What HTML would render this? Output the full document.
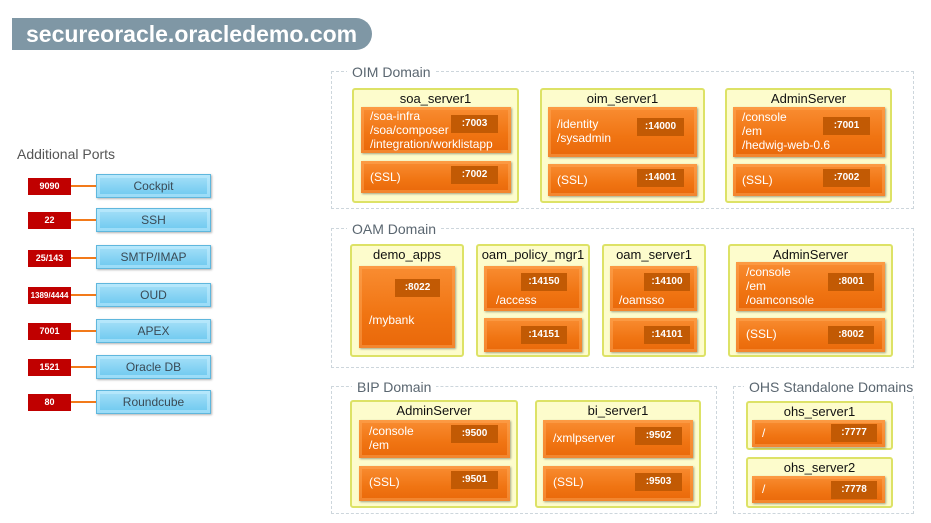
<!DOCTYPE html>
<html><head><meta charset="utf-8"><style>
*{margin:0;padding:0;box-sizing:border-box}
body{width:931px;height:523px;background:#fff;position:relative;overflow:hidden;font-family:"Liberation Sans",sans-serif}
div{position:absolute}
.title{left:12px;top:18px;width:360px;height:32px;background:#7f97a5;border-radius:0 16px 16px 0;color:#fff;font-weight:bold;font-size:23px;line-height:32px;padding-left:14px}
.dom{border:1.5px dashed #cdd6dc}
.dl{background:#fff;color:#5a6670;font-size:14px;padding:0 5px;line-height:16px}
.srv{background:#fdfccc;border:2px solid #dde266;border-radius:3px}
.sn{left:0;right:0;top:1px;text-align:center;font-size:13px;color:#111}
.or{background:linear-gradient(#f98d32,#f07412 60%,#e9680a);box-shadow:inset 0 0 0 3px rgba(255,170,90,.45),1px 1px 2px rgba(0,0,0,.35);color:#fff;font-size:12px;line-height:14px}
.or span{position:absolute;white-space:nowrap}
.bd{background:#c25a04;color:#fff;font-weight:bold;font-size:10px;text-align:center;line-height:18px;height:18px}
.red{left:28px;width:43px;height:17px;background:#c00000;color:#fff;font-weight:bold;font-size:9px;text-align:center;line-height:17px}
.ln{left:71px;width:25px;height:2px;background:#f27a1a}
.blu{left:96px;width:115px;height:24px;background:linear-gradient(#a6e0f8,#6cc8ef);border:1px solid #5fb7dd;box-shadow:inset 0 0 0 3px rgba(200,240,255,.5),1px 1px 2px rgba(0,0,0,.3);color:#3a4a55;font-size:12px;text-align:center;line-height:22px}
</style></head><body>
<div class="title">secureoracle.oracledemo.com</div>

<div style="left:17px;top:146px;font-size:14px;color:#555">Additional Ports</div>
<div class="red" style="top:178px">9090</div><div class="ln" style="top:185px"></div><div class="blu" style="top:174px">Cockpit</div>
<div class="red" style="top:212px">22</div><div class="ln" style="top:219px"></div><div class="blu" style="top:208px">SSH</div>
<div class="red" style="top:250px">25/143</div><div class="ln" style="top:257px"></div><div class="blu" style="top:245px">SMTP/IMAP</div>
<div class="red" style="top:287px;font-size:8px">1389/4444</div><div class="ln" style="top:294px"></div><div class="blu" style="top:283px">OUD</div>
<div class="red" style="top:323px">7001</div><div class="ln" style="top:330px"></div><div class="blu" style="top:319px">APEX</div>
<div class="red" style="top:359px">1521</div><div class="ln" style="top:366px"></div><div class="blu" style="top:355px">Oracle DB</div>
<div class="red" style="top:394px">80</div><div class="ln" style="top:401px"></div><div class="blu" style="top:390px">Roundcube</div>

<!-- OIM -->
<div class="dom" style="left:331px;top:71px;width:583px;height:138px"></div>
<div class="dl" style="left:347px;top:64px">OIM Domain</div>
<div class="srv" style="left:352px;top:88px;width:167px;height:115px"><div class="sn">soa_server1</div></div>
<div class="or" style="left:361px;top:107px;width:150px;height:46px"><span style="left:9px;top:2px">/soa-infra<br>/soa/composer<br>/integration/worklistapp</span></div>
<div class="bd" style="left:451px;top:115px;width:47px">:7003</div>
<div class="or" style="left:361px;top:161px;width:150px;height:32px"><span style="left:9px;top:9px">(SSL)</span></div>
<div class="bd" style="left:451px;top:166px;width:47px">:7002</div>

<div class="srv" style="left:540px;top:88px;width:165px;height:115px"><div class="sn">oim_server1</div></div>
<div class="or" style="left:548px;top:107px;width:149px;height:50px"><span style="left:9px;top:10px">/identity<br>/sysadmin</span></div>
<div class="bd" style="left:637px;top:118px;width:47px">:14000</div>
<div class="or" style="left:548px;top:164px;width:149px;height:32px"><span style="left:9px;top:9px">(SSL)</span></div>
<div class="bd" style="left:637px;top:169px;width:47px">:14001</div>

<div class="srv" style="left:725px;top:88px;width:167px;height:115px"><div class="sn">AdminServer</div></div>
<div class="or" style="left:733px;top:107px;width:152px;height:50px"><span style="left:9px;top:3px">/console<br>/em<br>/hedwig-web-0.6</span></div>
<div class="bd" style="left:823px;top:117px;width:47px">:7001</div>
<div class="or" style="left:733px;top:164px;width:152px;height:32px"><span style="left:9px;top:9px">(SSL)</span></div>
<div class="bd" style="left:823px;top:169px;width:47px">:7002</div>

<!-- OAM -->
<div class="dom" style="left:331px;top:228px;width:583px;height:140px"></div>
<div class="dl" style="left:347px;top:221px">OAM Domain</div>
<div class="srv" style="left:350px;top:244px;width:114px;height:113px"><div class="sn">demo_apps</div></div>
<div class="or" style="left:359px;top:266px;width:96px;height:82px"><span style="left:10px;top:47px">/mybank</span></div>
<div class="bd" style="left:395px;top:279px;width:45px">:8022</div>

<div class="srv" style="left:476px;top:244px;width:114px;height:113px"><div class="sn">oam_policy_mgr1</div></div>
<div class="or" style="left:484px;top:266px;width:98px;height:45px"><span style="left:12px;top:27px">/access</span></div>
<div class="bd" style="left:521px;top:273px;width:46px">:14150</div>
<div class="or" style="left:484px;top:318px;width:98px;height:34px"></div>
<div class="bd" style="left:521px;top:326px;width:46px">:14151</div>

<div class="srv" style="left:602px;top:244px;width:104px;height:113px"><div class="sn">oam_server1</div></div>
<div class="or" style="left:610px;top:266px;width:87px;height:45px"><span style="left:9px;top:27px">/oamsso</span></div>
<div class="bd" style="left:644px;top:273px;width:46px">:14100</div>
<div class="or" style="left:610px;top:318px;width:87px;height:34px"></div>
<div class="bd" style="left:644px;top:326px;width:46px">:14101</div>

<div class="srv" style="left:728px;top:244px;width:165px;height:113px"><div class="sn">AdminServer</div></div>
<div class="or" style="left:736px;top:262px;width:149px;height:49px"><span style="left:10px;top:3px">/console<br>/em<br>/oamconsole</span></div>
<div class="bd" style="left:828px;top:273px;width:46px">:8001</div>
<div class="or" style="left:736px;top:318px;width:149px;height:34px"><span style="left:10px;top:9px">(SSL)</span></div>
<div class="bd" style="left:828px;top:326px;width:46px">:8002</div>

<!-- BIP -->
<div class="dom" style="left:331px;top:386px;width:386px;height:128px"></div>
<div class="dl" style="left:352px;top:379px">BIP Domain</div>
<div class="srv" style="left:350px;top:400px;width:168px;height:108px"><div class="sn">AdminServer</div></div>
<div class="or" style="left:359px;top:420px;width:151px;height:38px"><span style="left:10px;top:4px">/console<br>/em</span></div>
<div class="bd" style="left:451px;top:425px;width:47px">:9500</div>
<div class="or" style="left:359px;top:466px;width:151px;height:35px"><span style="left:10px;top:9px">(SSL)</span></div>
<div class="bd" style="left:451px;top:471px;width:47px">:9501</div>

<div class="srv" style="left:535px;top:400px;width:166px;height:108px"><div class="sn">bi_server1</div></div>
<div class="or" style="left:543px;top:420px;width:150px;height:38px"><span style="left:10px;top:11px">/xmlpserver</span></div>
<div class="bd" style="left:635px;top:427px;width:47px">:9502</div>
<div class="or" style="left:543px;top:466px;width:150px;height:35px"><span style="left:10px;top:9px">(SSL)</span></div>
<div class="bd" style="left:635px;top:473px;width:47px">:9503</div>

<!-- OHS -->
<div class="dom" style="left:733px;top:386px;width:181px;height:128px"></div>
<div class="dl" style="left:744px;top:379px">OHS Standalone Domains</div>
<div class="srv" style="left:746px;top:401px;width:147px;height:49px"><div class="sn">ohs_server1</div></div>
<div class="or" style="left:752px;top:420px;width:133px;height:27px"><span style="left:10px;top:6px">/</span></div>
<div class="bd" style="left:831px;top:424px;width:46px">:7777</div>
<div class="srv" style="left:746px;top:457px;width:147px;height:51px"><div class="sn">ohs_server2</div></div>
<div class="or" style="left:752px;top:476px;width:133px;height:27px"><span style="left:10px;top:6px">/</span></div>
<div class="bd" style="left:831px;top:481px;width:46px">:7778</div>
</body></html>
